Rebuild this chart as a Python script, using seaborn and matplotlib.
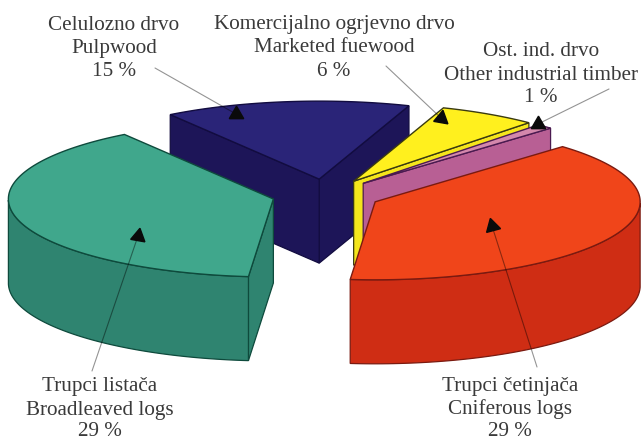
# Import libraries
import numpy as np
import matplotlib
matplotlib.use("Agg")
import matplotlib.pyplot as plt
import seaborn as sns

# Slices, counter-clockwise from the front edge of the red one
slice_names = ["Cniferous logs", "Other industrial timber", "Marketed fuewood", "Pulpwood", "Broadleaved logs"]
slice_shares = [39, 1, 6, 15, 39]
top_colors = ["#f0451a", "#d488ac", "#fff01e", "#2a2478", "#40a78c"]
wall_colors = ["#cf2d14", "#b85f94", "#f4e61c", "#1d1558", "#2f8470"]
edge_colors = ["#7a1a10", "#4a1a50", "#3a3a10", "#120c40", "#0e4a3c"]

# Labels
label_lines = [
    ["Celulozno drvo", "Pulpwood", "15 %"],
    ["Komercijalno ogrjevno drvo", "Marketed fuewood", "6 %"],
    ["Ost. ind. drvo", "Other industrial timber", "1 %"],
    ["Trupci listača", "Broadleaved logs", "29 %"],
    ["Trupci četinjača", "Cniferous logs", "29 %"],
]
label_x = [114, 334, 541, 100, 510]
label_y = [[25, 48, 71], [25, 48, 71], [52, 76, 98], [387, 410, 431], [386, 409, 431]]

# Leader lines: text end, arrow head, head rotation
leader_start = [(155, 68), (386, 66), (609, 89), (92, 371), (537, 367)]
leader_end = [(236, 114), (441, 118), (538, 124), (138, 236), (492, 226)]
head_angle = [0, -10, 0, -10, 15]

# Pie geometry
CX, CY = 326, 195
RX, RY = 265, 78
DEPTH = 84
EXPLODE = 0.205
START = -95.4

sns.set_theme(style="white")
plt.rcParams["font.family"] = ["Liberation Serif", "DejaVu Serif"]

fig = plt.figure(figsize=(6.41, 4.41), dpi=100)
ax = fig.add_axes([0, 0, 1, 1])
ax.set_xlim(0, 641)
ax.set_ylim(441, 0)
ax.axis("off")


def point(t, x0, y0):
    return x0 + RX * np.cos(t), y0 - RY * np.sin(t)


def draw_slice(t0, t1, top, wall, edge, z):
    mid = (t0 + t1) / 2
    x0 = CX + EXPLODE * RX * np.cos(mid)
    y0 = CY - EXPLODE * RY * np.sin(mid)
    t = np.linspace(t0, t1, 120)
    ax_, ay_ = point(t, x0, y0)

    # Straight walls, only the ones that face the viewer
    for a, visible in [(t0, np.cos(t0) > 0), (t1, np.cos(t1) < 0)]:
        if not visible:
            continue
        ex, ey = point(a, x0, y0)
        ax.fill([x0, ex, ex, x0], [y0, ey, ey + DEPTH, y0 + DEPTH],
                facecolor=wall, edgecolor=edge, lw=0.9, zorder=z)

    # Curved wall, same thing
    front = np.sin(t) < 0
    if front.any():
        fx, fy = ax_[front], ay_[front]
        ax.fill(np.r_[fx, fx[::-1]], np.r_[fy, fy[::-1] + DEPTH],
                facecolor=wall, edgecolor=edge, lw=0.9, zorder=z + 0.1)

    # Top face
    ax.fill(np.r_[x0, ax_], np.r_[y0, ay_], facecolor=top, edgecolor=edge,
            lw=1.0, zorder=z + 0.2)


# Work out the angles from the shares
angles = START + np.cumsum([0] + slice_shares) * 3.6
radians = np.deg2rad(angles)

# Back slices first
order = [3, 2, 1, 0, 4]
for z, i in enumerate(order):
    draw_slice(radians[i], radians[i + 1], top_colors[i], wall_colors[i], edge_colors[i], z + 1)

# Leader lines and arrow heads
for (x0, y0), (x1, y1), rot in zip(leader_start, leader_end, head_angle):
    ax.plot([x0, x1], [y0, y1], color="black", alpha=0.42, lw=0.8, zorder=10)
    ax.plot(x1, y1, marker=(3, 0, rot), ms=12, color="#0a0a0a", zorder=11)

# Text
for lines, x, ys in zip(label_lines, label_x, label_y):
    for line, y in zip(lines, ys):
        ax.text(x, y, line, ha="center", va="center", fontsize=15.2, color="#3a3a3a", zorder=12)

plt.savefig("out.png", dpi=100)
